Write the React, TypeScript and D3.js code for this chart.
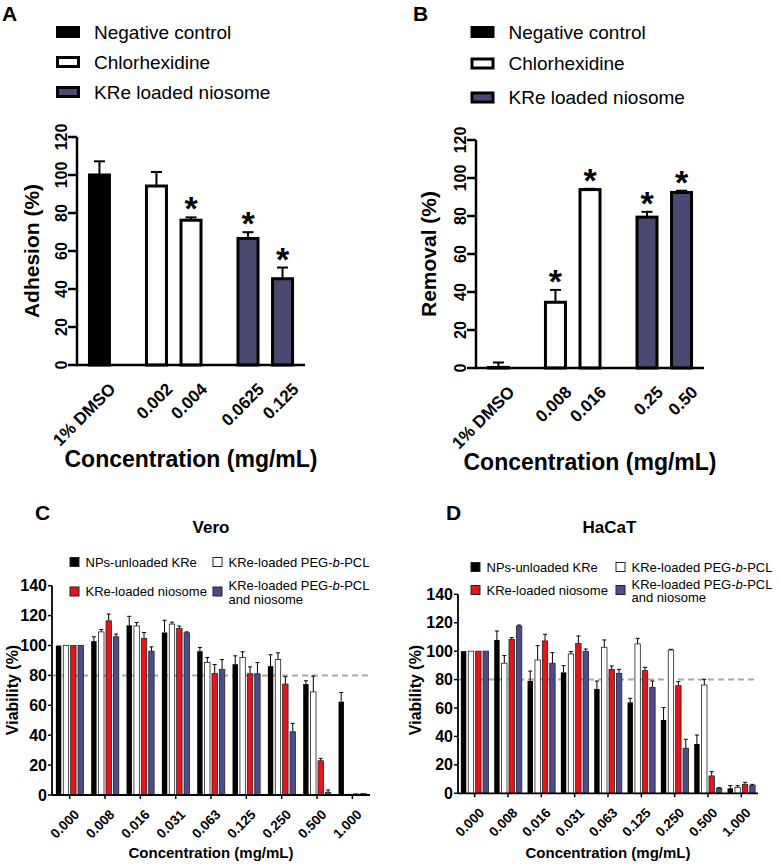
import React, { useEffect, useRef } from "react";
import * as d3 from "d3";

const FONT = "Arial, 'Liberation Sans', Helvetica, sans-serif";

// ---- A: adhesion
const adhesionLabels = ["1% DMSO", "0.002", "0.004", "0.0625", "0.125"];
const adhesionGroups = [0, 1, 1, 2, 2];
const adhesionValues = [100, 94.2, 76.2, 66.6, 45.4];
const adhesionErrors = [7.2, 7.4, 1.5, 3.3, 5.9];
const adhesionStars = [false, false, true, true, true];

// ---- B: removal
const removalLabels = ["1% DMSO", "0.008", "0.016", "0.25", "0.50"];
const removalGroups = [0, 1, 1, 2, 2];
const removalValues = [0.3, 34.6, 93.9, 79.4, 92.4];
const removalErrors = [2.6, 6.5, 0.4, 2.8, 0.9];
const removalStars = [false, true, true, true, true];

const treatmentNames = ["Negative control", "Chlorhexidine", "KRe loaded niosome"];
const treatmentFills = ["#000000", "#ffffff", "#4b4971"];
const treatmentTicks = [0, 20, 40, 60, 80, 100, 120];

// ---- C, D: viability
const concentrations = ["0.000", "0.008", "0.016", "0.031", "0.063", "0.125", "0.250", "0.500", "1.000"];
const formulations = ["NPs-unloaded KRe", "KRe-loaded PEG-b-PCL", "KRe-loaded niosome", "KRe-loaded PEG-b-PCL and niosome"];
const formulationFills = ["#000000", "#ffffff", "#e8141c", "#4b4b8e"];
const viabilityTicks = [0, 20, 40, 60, 80, 100, 120, 140];

// Vero
const veroUnloaded = [100, 102.9, 113.5, 108.7, 96.2, 87.5, 86.2, 74.2, 62.4];
const veroUnloadedErr = [0, 2.9, 6.0, 8.2, 2.5, 5.6, 7.6, 2.2, 6.2];
const veroPeg = [100, 109.1, 113.1, 114.3, 88.6, 92.0, 90.6, 69.0, 0.5];
const veroPegErr = [0, 1.6, 2.3, 1.3, 3.4, 3.8, 4.5, 10.5, 0];
const veroNiosome = [100, 116.5, 104.7, 111.4, 81.3, 81.1, 74.2, 22.9, 0.8];
const veroNiosomeErr = [0, 4.5, 4.0, 1.6, 6.0, 4.6, 4.9, 1.6, 0];
const veroBoth = [100, 105.8, 96.2, 108.5, 84.0, 81.1, 42.3, 1.8, 1.0];
const veroBothErr = [0, 1.8, 2.9, 0.6, 6.6, 7.5, 5.6, 1.5, 0];

// HaCaT
const hacatUnloaded = [100, 107.9, 79.0, 85.1, 73.4, 64.0, 51.6, 34.7, 3.5];
const hacatUnloadedErr = [0, 6.3, 7.0, 4.7, 5.6, 2.8, 8.7, 6.3, 1.9];
const hacatPeg = [100, 91.5, 93.8, 98.0, 102.7, 105.1, 100.8, 76.2, 4.2];
const hacatPegErr = [0, 5.4, 10.1, 1.7, 5.2, 3.9, 0.5, 4.0, 1.2];
const hacatNiosome = [100, 108.3, 107.2, 105.5, 87.2, 86.3, 75.7, 12.2, 6.3];
const hacatNiosomeErr = [0, 1.2, 4.7, 5.2, 2.4, 2.3, 2.9, 3.0, 1.4];
const hacatBoth = [100, 117.7, 91.5, 99.7, 84.4, 74.6, 31.7, 3.5, 5.6];
const hacatBothErr = [0, 0.7, 7.5, 1.8, 2.8, 4.4, 6.3, 0.5, 0.7];

function drawTreatment(svg: any, cfg: any) {
  const g = svg.append("g");
  const x = d3.scaleLinear().domain([-0.65, 5.95]).range([cfg.x0, cfg.x1]);
  const y = d3.scaleLinear().domain([0, 120]).range([cfg.y0, cfg.y1]);
  // groups are separated by an extra gap
  const pos = cfg.groups.map((grp: number, i: number) => x(i + grp * 0.65));
  const barW = 20;

  g.append("text")
    .attr("x", cfg.letterX)
    .attr("y", 21)
    .attr("font-size", 21)
    .attr("font-weight", "bold")
    .text(cfg.letter);

  // legend
  const legend = g
    .selectAll(".legend")
    .data(treatmentNames)
    .enter()
    .append("g")
    .attr("transform", (d: string, i: number) => `translate(${cfg.legendX},${cfg.legendRows[i]})`);
  legend
    .append("rect")
    .attr("x", 1.5)
    .attr("y", -4.5)
    .attr("width", 21)
    .attr("height", 9)
    .attr("fill", (d: string, i: number) => treatmentFills[i])
    .attr("stroke", "#000")
    .attr("stroke-width", 3);
  legend
    .append("text")
    .attr("x", 38)
    .attr("y", 6.5)
    .attr("font-size", 19)
    .text((d: string) => d);

  // bars
  g.selectAll(".bar")
    .data(cfg.values)
    .enter()
    .append("rect")
    .attr("x", (d: number, i: number) => pos[i] - barW / 2)
    .attr("y", (d: number) => y(d))
    .attr("width", barW)
    .attr("height", (d: number) => y(0) - y(d))
    .attr("fill", (d: number, i: number) => treatmentFills[cfg.groups[i]])
    .attr("stroke", "#000")
    .attr("stroke-width", 3);

  // error bars (upper only)
  cfg.values.forEach((v: number, i: number) => {
    const top = y(v + cfg.errors[i]);
    g.append("line")
      .attr("x1", pos[i]).attr("x2", pos[i])
      .attr("y1", y(v)).attr("y2", top)
      .attr("stroke", "#000").attr("stroke-width", 2);
    g.append("line")
      .attr("x1", pos[i] - 5.5).attr("x2", pos[i] + 5.5)
      .attr("y1", top).attr("y2", top)
      .attr("stroke", "#000").attr("stroke-width", 2);
    if (cfg.stars[i]) {
      g.append("text")
        .attr("x", pos[i])
        .attr("y", top + 3)
        .attr("text-anchor", "middle")
        .attr("font-size", 34)
        .attr("font-weight", "bold")
        .text("*");
    }
  });

  // axes
  g.append("line")
    .attr("x1", cfg.x0).attr("x2", cfg.x1)
    .attr("y1", cfg.y0).attr("y2", cfg.y0)
    .attr("stroke", "#000").attr("stroke-width", 2.5);
  g.append("line")
    .attr("x1", cfg.x0).attr("x2", cfg.x0)
    .attr("y1", cfg.y0 + 1.2).attr("y2", cfg.y1)
    .attr("stroke", "#000").attr("stroke-width", 2.5);

  treatmentTicks.forEach((t) => {
    g.append("line")
      .attr("x1", cfg.x0 - 9).attr("x2", cfg.x0)
      .attr("y1", y(t)).attr("y2", y(t))
      .attr("stroke", "#000").attr("stroke-width", 2.5);
    g.append("text")
      .attr("transform", `translate(${cfg.x0 - 10},${y(t)}) rotate(-90)`)
      .attr("text-anchor", "middle")
      .attr("font-size", 16)
      .attr("font-weight", "bold")
      .text(t);
  });

  g.append("text")
    .attr("transform", `translate(${cfg.yTitleX},${(cfg.y0 + cfg.y1) / 2}) rotate(-90)`)
    .attr("text-anchor", "middle")
    .attr("font-size", 21)
    .attr("font-weight", "bold")
    .text(cfg.yTitle);

  cfg.labels.forEach((lab: string, i: number) => {
    g.append("text")
      .attr("transform", `translate(${pos[i] + 13},${cfg.y0 + 21}) rotate(-45)`)
      .attr("text-anchor", "end")
      .attr("dy", "0.35em")
      .attr("font-size", 17)
      .attr("font-weight", "bold")
      .text(lab);
  });

  g.append("text")
    .attr("x", (cfg.x0 + cfg.x1) / 2)
    .attr("y", cfg.titleY)
    .attr("text-anchor", "middle")
    .attr("font-size", 23)
    .attr("font-weight", "bold")
    .text("Concentration (mg/mL)");
}

function pegLabel(sel: any, y: number, extra?: string) {
  const t = sel.append("text").attr("x", 15.5).attr("y", y).attr("font-size", 13);
  t.append("tspan").text("KRe-loaded PEG-");
  t.append("tspan").attr("font-style", "italic").text("b");
  t.append("tspan").text("-PCL");
  if (extra) {
    sel.append("text").attr("x", 15.5).attr("y", y + 13.5).attr("font-size", 13).text(extra);
  }
}

function drawViability(svg: any, cfg: any) {
  const g = svg.append("g");
  const x = d3.scaleBand().domain(concentrations).range([cfg.x0, cfg.x1]);
  const inner = d3.scaleBand().domain(formulations).range([-13.8, 13.8]).paddingInner(0.27);
  const y = d3.scaleLinear().domain([0, 140]).range([cfg.y0, cfg.y1]);
  const cx = (c: string) => (x(c) as number) + x.bandwidth() / 2;

  g.append("text")
    .attr("x", cfg.letterX).attr("y", 520)
    .attr("font-size", 21).attr("font-weight", "bold")
    .text(cfg.letter);
  g.append("text")
    .attr("x", cfg.titleX).attr("y", 533)
    .attr("text-anchor", "middle")
    .attr("font-size", 17).attr("font-weight", "bold")
    .text(cfg.title);

  // legend: black, white on first row; red, blue on second
  const spots = [
    [cfg.col0X, cfg.row0Y],
    [cfg.col1X, cfg.row0Y],
    [cfg.col0X, cfg.row1Y],
    [cfg.col1X, cfg.row1Y],
  ];
  formulations.forEach((f, s) => {
    const lg = g.append("g").attr("transform", `translate(${spots[s][0]},${spots[s][1]})`);
    lg.append("rect")
      .attr("x", 0).attr("y", -4.5).attr("width", 9).attr("height", 9)
      .attr("fill", formulationFills[s]).attr("stroke", "#222").attr("stroke-width", 1);
    if (s === 1) pegLabel(lg, 4.5);
    else if (s === 3) pegLabel(lg, -1.5, "and niosome");
    else lg.append("text").attr("x", 15.5).attr("y", 4.5).attr("font-size", 13).text(f);
  });

  // 80% reference line
  g.append("line")
    .attr("x1", cfg.x0).attr("x2", cfg.x1)
    .attr("y1", y(80)).attr("y2", y(80))
    .attr("stroke", "#a8a8a8").attr("stroke-width", 2)
    .attr("stroke-dasharray", "6,4");

  const cells = formulations.flatMap((f, s) =>
    concentrations.map((c, i) => ({ f, s, c, v: cfg.values[s][i], e: cfg.errors[s][i] }))
  );

  cells.forEach((d) => {
    const bx = cx(d.c) + (inner(d.f) as number);
    const w = inner.bandwidth();
    if (d.e > 0) {
      const top = y(d.v + d.e);
      g.append("line")
        .attr("x1", bx + w / 2).attr("x2", bx + w / 2)
        .attr("y1", y(d.v)).attr("y2", top)
        .attr("stroke", "#000").attr("stroke-width", 1);
      g.append("line")
        .attr("x1", bx + w / 2 - 2).attr("x2", bx + w / 2 + 2)
        .attr("y1", top).attr("y2", top)
        .attr("stroke", "#000").attr("stroke-width", 1);
    }
  });

  g.selectAll(".vbar")
    .data(cells)
    .enter()
    .append("rect")
    .attr("x", (d: any) => cx(d.c) + (inner(d.f) as number))
    .attr("y", (d: any) => y(d.v))
    .attr("width", inner.bandwidth())
    .attr("height", (d: any) => y(0) - y(d.v))
    .attr("fill", (d: any) => formulationFills[d.s])
    .attr("stroke", (d: any) => (d.s === 0 ? "none" : "#222"))
    .attr("stroke-width", 0.8);

  // axes
  g.append("line")
    .attr("x1", cfg.x0).attr("x2", cfg.x1)
    .attr("y1", cfg.y0).attr("y2", cfg.y0)
    .attr("stroke", "#000").attr("stroke-width", 1.8);
  g.append("line")
    .attr("x1", cfg.x0).attr("x2", cfg.x0)
    .attr("y1", cfg.y0).attr("y2", cfg.y1)
    .attr("stroke", "#000").attr("stroke-width", 1.8);

  viabilityTicks.forEach((t) => {
    g.append("line")
      .attr("x1", cfg.x0 - 4).attr("x2", cfg.x0)
      .attr("y1", y(t)).attr("y2", y(t))
      .attr("stroke", "#000").attr("stroke-width", 1.5);
    g.append("text")
      .attr("x", cfg.x0 - 5).attr("y", y(t))
      .attr("dy", "0.35em")
      .attr("text-anchor", "end")
      .attr("font-size", 16).attr("font-weight", "bold")
      .text(t);
  });

  concentrations.forEach((c) => {
    g.append("line")
      .attr("x1", cx(c)).attr("x2", cx(c))
      .attr("y1", cfg.y0).attr("y2", cfg.y0 + 4)
      .attr("stroke", "#000").attr("stroke-width", 1.5);
    g.append("text")
      .attr("transform", `translate(${cx(c) + 7},${cfg.y0 + 17}) rotate(-45)`)
      .attr("text-anchor", "end")
      .attr("dy", "0.35em")
      .attr("font-size", 13.5).attr("font-weight", "bold")
      .text(c);
  });

  g.append("text")
    .attr("transform", `translate(${cfg.yTitleX},690) rotate(-90)`)
    .attr("text-anchor", "middle")
    .attr("font-size", 16).attr("font-weight", "bold")
    .text("Viability (%)");

  g.append("text")
    .attr("x", (cfg.x0 + cfg.x1) / 2).attr("y", 858)
    .attr("text-anchor", "middle")
    .attr("font-size", 15).attr("font-weight", "bold")
    .text("Concentration (mg/mL)");
}

const App = () => {
  const svgRef = useRef<SVGSVGElement>(null);

  useEffect(() => {
    const svg = d3.select(svgRef.current);
    svg.selectAll("*").remove();
    svg.attr("font-family", FONT);

    drawTreatment(svg, {
      letter: "A", letterX: 2,
      x0: 77, x1: 305, y0: 365, y1: 137,
      labels: adhesionLabels, groups: adhesionGroups, values: adhesionValues,
      errors: adhesionErrors, stars: adhesionStars,
      yTitle: "Adhesion (%)", yTitleX: 39,
      legendX: 56, legendRows: [32, 62, 92], titleY: 467,
    });
    drawTreatment(svg, {
      letter: "B", letterX: 413,
      x0: 476, x1: 704, y0: 368, y1: 140,
      labels: removalLabels, groups: removalGroups, values: removalValues,
      errors: removalErrors, stars: removalStars,
      yTitle: "Removal (%)", yTitleX: 436,
      legendX: 470.5, legendRows: [32, 63.5, 97.5], titleY: 470,
    });
    drawViability(svg, {
      letter: "C", letterX: 35, title: "Vero", titleX: 211,
      x0: 52, x1: 370, y0: 795, y1: 585.7, yTitleX: 18,
      values: [veroUnloaded, veroPeg, veroNiosome, veroBoth],
      errors: [veroUnloadedErr, veroPegErr, veroNiosomeErr, veroBothErr],
      col0X: 70, col1X: 213, row0Y: 562, row1Y: 591.5,
    });
    drawViability(svg, {
      letter: "D", letterX: 446, title: "HaCaT", titleX: 609.5,
      x0: 458, x1: 758, y0: 793.3, y1: 594.3, yTitleX: 421,
      values: [hacatUnloaded, hacatPeg, hacatNiosome, hacatBoth],
      errors: [hacatUnloadedErr, hacatPegErr, hacatNiosomeErr, hacatBothErr],
      col0X: 471, col1X: 616, row0Y: 567, row1Y: 590,
    });
  }, []);

  return (
    <svg
      ref={svgRef}
      width={782}
      height={864}
      style={{ position: "absolute", left: 0, top: 0, background: "#fff" }}
    ></svg>
  );
};

export default App;
